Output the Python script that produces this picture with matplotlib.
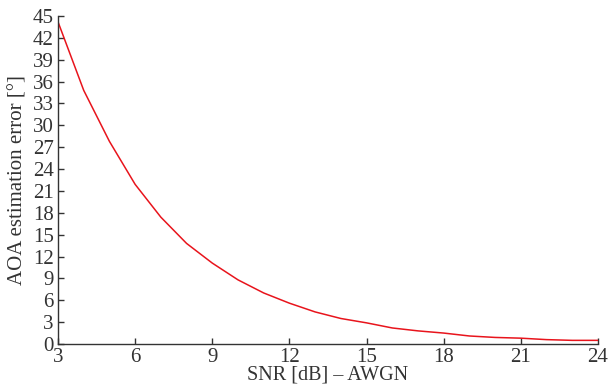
import matplotlib
matplotlib.use('Agg')
import matplotlib.pyplot as plt

snr = [3, 4, 5, 6, 7, 8, 9, 10, 11, 12, 13, 14, 15, 16, 17, 18, 19, 20, 21, 22, 23, 24]
aoa_error = [44.2, 34.8, 27.8, 21.9, 17.4, 13.8, 11.1, 8.8, 7.0, 5.6, 4.4, 3.5, 2.9, 2.2, 1.8, 1.5, 1.1, 0.9, 0.8, 0.6, 0.5, 0.5]

plt.rcParams['font.family'] = ['Liberation Serif', 'DejaVu Serif']

fig = plt.figure(figsize=(6.09, 3.87), dpi=100)
ax = fig.add_axes([58 / 609, 1 - 344 / 387, 540 / 609, 328 / 387])

ax.plot(snr, aoa_error, color='#e8141c', linewidth=1.1)

ax.set_xlim(3, 24)
ax.set_ylim(0, 45)
ax.set_xticks(range(3, 25, 3))
ax.set_yticks(range(0, 46, 3))
ax.spines['top'].set_visible(False)
ax.spines['right'].set_visible(False)
for s in ('left', 'bottom'):
    ax.spines[s].set_color('#333333')
    ax.spines[s].set_linewidth(1.0)
ax.tick_params(direction='in', length=4, width=1, colors='#333333', labelsize=15, pad=3)
ax.tick_params(axis='x', pad=3)

ax.set_xlabel('SNR [dB] – AWGN', fontsize=14.5, color='#333333', labelpad=-1)
ax.set_ylabel('AOA estimation error [°]', fontsize=15, color='#333333', labelpad=4)

fig.savefig('out.png', dpi=100)
